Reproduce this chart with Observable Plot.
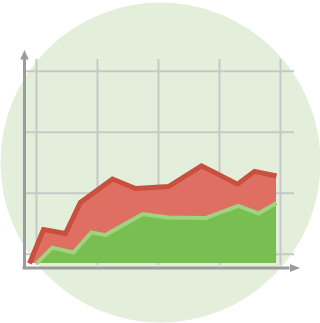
<!DOCTYPE html>
<html>
<head>
<meta charset="utf-8">
<script src="https://cdn.jsdelivr.net/npm/d3@7"></script>
<script src="https://cdn.jsdelivr.net/npm/@observablehq/plot@0.6"></script>
<style>
  html, body { margin: 0; padding: 0; background: #ffffff; }
  #chart svg { display: block; }
</style>
</head>
<body>
<div id="chart"></div>
<script>
// ---- data (arbitrary units: one grid cell = 10 units) ----
const xTicks = [0, 10, 20, 30, 40];
const yTicks = [1.5, 11.5, 21.5, 31.5];

const redX   = [-1.15, 1.15, 4.75, 7.2, 12.45, 16.25, 21.65, 27.05, 32.95, 35.75, 39.35];
const redY   = [0, 5.55, 4.9, 10.0, 13.85, 12.3, 12.6, 16.0, 13.0, 15.1, 14.35];
const greenX = [0, 2.6, 6.05, 9.0, 11.3, 17.4, 21.5, 27.7, 33.1, 36.4, 39.35];
const greenY = [0, 2.6, 1.8, 5.1, 4.65, 8.1, 7.55, 7.45, 9.45, 8.2, 9.9];

// frame extents in data units
const xDomain = [-5.9, 46.56];
const yDomain = [-9.84, 43.11];
const gridX = [-1.65, 42.3];   // horizontal grid line extent
const gridY = [-0.33, 33.44];  // vertical grid line extent
const axisX = -1.97, axisY = -0.74;
const axisTopY = 33.44, axisTipY = 35.0;
const axisRightX = 41.56, axisTipX = 43.2;
const circle = [{x: 20.33, y: 16.56}];

const red = redX.map((x, i) => ({x, y: redY[i]}));
const green = greenX.map((x, i) => ({x, y: greenY[i]}));

const upHead = [
  {x: axisX - 0.7, y: axisTopY},
  {x: axisX, y: axisTipY},
  {x: axisX + 0.7, y: axisTopY}
];
const rightHead = [
  {x: axisRightX, y: axisY + 0.66},
  {x: axisTipX, y: axisY},
  {x: axisRightX, y: axisY - 0.66}
];

const gridCol = "#c7c7c7";
const axisCol = "#9b9b9b";

const chart = Plot.plot({
  width: 320,
  height: 323,
  margin: 0,
  x: {domain: xDomain, axis: null},
  y: {domain: yDomain, axis: null},
  marks: [
    Plot.dot(circle, {x: "x", y: "y", r: 160, fill: "#e3efdb", stroke: "none"}),
    Plot.ruleX(xTicks, {x: d => d, y1: gridY[0], y2: gridY[1], stroke: gridCol, strokeWidth: 2}),
    Plot.ruleY(yTicks, {y: d => d, x1: gridX[0], x2: gridX[1], stroke: gridCol, strokeWidth: 2}),
    Plot.ruleX([axisX], {x: d => d, y1: -1.0, y2: axisTopY, stroke: axisCol, strokeWidth: 3}),
    Plot.ruleY([axisY], {y: d => d, x1: -2.2, x2: axisRightX, stroke: axisCol, strokeWidth: 3}),
    Plot.line(upHead, {x: "x", y: "y", fill: axisCol, stroke: "none"}),
    Plot.line(rightHead, {x: "x", y: "y", fill: axisCol, stroke: "none"}),
    Plot.areaY(red, {x: "x", y: "y", fill: "#df6f62", curve: "linear"}),
    Plot.line(red, {x: "x", y: "y", stroke: "#c9503f", strokeWidth: 5, strokeLinejoin: "miter", strokeMiterlimit: 10, strokeLinecap: "butt"}),
    Plot.areaY(green, {x: "x", y: "y", fill: "#79be51", curve: "linear"}),
    Plot.line(green, {x: "x", y: "y", stroke: "#9fd47f", strokeWidth: 4, strokeLinejoin: "miter", strokeMiterlimit: 10, strokeLinecap: "butt"})
  ]
});
document.getElementById("chart").appendChild(chart);
</script>
</body>
</html>
